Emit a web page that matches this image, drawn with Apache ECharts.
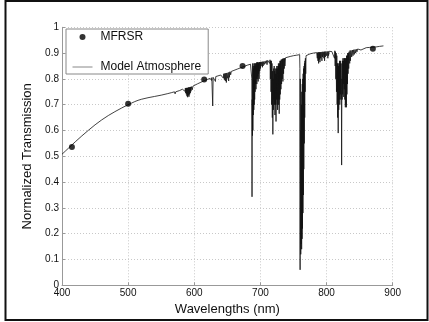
<!DOCTYPE html>
<html><head><meta charset="utf-8">
<script src="https://cdn.jsdelivr.net/npm/echarts@6/dist/echarts.min.js"></script>
<style>html,body{margin:0;padding:0;background:#fff}#c{width:429px;height:322px}</style>
</head><body><div id="c"></div>
<script>
// MFRSR measurements
const mfrsrWl = [415, 500, 615, 673, 870];
const mfrsrT  = [0.536, 0.704, 0.798, 0.850, 0.917];

// Model atmosphere spectrum
const modelWl = [
400,405,410,415,420,430,440,450,460,470,480,490,500,505,510,515,520,530,540,550,560,566,
570,571,572,573,574,578,582,585,586,586.5,587,587.5,588,588.5,589,589.5,590,590.5,591,591.5,592,592.5,593,593.5,594,594.5,595,596,597,598,600,
605,610,615,620,624,626,626.5,627.9,628.5,630,632,632.5,635,640,643,644,644.5,645.5,646,647,647.5,648.5,649,650,651,652,652.5,653,654,655,656,660,665,670,675,680,685,686.5,
687,687.3,687.6,688,688.3,688.6,689,689.3,689.6,690,690.3,690.6,691,691.3,691.6,692,692.3,692.6,693,693.3,693.6,694,694.3,694.6,695,695.3,695.6,696,696.3,696.6,697,697.3,697.6,698,698.5,699,699.5,700,700.5,701,702,703,703.5,704,705,706,707,708,709,710,711,712,713,714,714.5,
715,715.5,716,716.5,717,717.5,718,718.4,718.8,719.2,719.6,720,720.4,720.8,721.2,721.6,722,722.4,722.8,723.2,723.6,724,724.4,724.8,725.2,725.6,726,726.4,726.8,727.2,727.6,728,728.4,728.8,729.2,729.6,730,730.5,731,731.5,732,732.5,733,733.5,734,734.5,735,735.5,736,736.5,737,738,740,745,750,755,
759.3,759.7,760,760.3,760.6,761,761.3,761.6,762,762.3,762.6,763,763.3,763.6,764,764.3,764.6,765,765.3,765.6,766,766.3,766.6,767,767.3,767.6,768,768.5,769,770,775,780,785,
786,786.5,787,787.5,788,788.5,789,789.5,790,790.5,791,792,793,793.5,794,795,796,796.5,797,797.5,798,799,800,801,802,802.5,803,804,806,808,809,810,811,812,812.5,813,813.5,814,814.5,815,815.5,
816,816.4,816.8,817.2,817.6,818,818.4,818.8,819.2,819.6,820,820.4,820.8,821.2,821.6,822,822.4,822.8,823.2,823.6,824,824.4,824.8,825.2,825.6,826,826.4,826.8,827.2,827.6,828,828.4,828.8,829.2,829.6,830,830.4,830.8,831.2,831.6,832,832.5,833,833.5,834,835,835.5,836,837,838,839,840,841,842,843,844,845,846,847,848,850,852,853,855,860,865,870,875,880,886
];
const modelT = [
.508,.520,.532,.544,.556,.579,.601,.622,.641,.658,.673,.687,.700,.706,.712,.717,.721,.727,.732,.737,.743,.747,
.750,.742,.750,.745,.751,.755,.760,.763,.752,.764,.745,.765,.740,.765,.733,.765,.729,.766,.736,.767,.731,.767,.740,.768,.745,.769,.752,.770,.758,.772,.775,
.781,.787,.793,.798,.802,.794,.805,.695,.806,.807,.790,.809,.811,.815,.818,.803,.820,.797,.821,.792,.822,.786,.823,.802,.824,.792,.826,.806,.828,.816,.829,.833,.838,.843,.848,.853,.857,.859,
.80,.343,.72,.58,.86,.60,.85,.66,.84,.68,.86,.70,.85,.72,.86,.75,.86,.78,.85,.76,.86,.80,.864,.78,.86,.80,.864,.81,.864,.79,.86,.82,.864,.80,.865,.83,.865,.84,.866,.85,.866,.845,.867,.85,.867,.856,.869,.86,.871,.855,.872,.865,.873,.86,.874,
.80,.87,.75,.87,.70,.86,.65,.83,.585,.80,.68,.84,.72,.85,.70,.83,.66,.84,.70,.82,.635,.84,.72,.85,.70,.84,.68,.85,.72,.86,.70,.85,.665,.86,.72,.87,.74,.87,.76,.875,.78,.875,.80,.878,.79,.878,.82,.88,.84,.88,.85,.882,.884,.887,.890,.892,
.894,.84,.06,.80,.40,.12,.60,.16,.70,.14,.75,.18,.78,.22,.80,.28,.82,.35,.84,.45,.85,.55,.86,.65,.87,.75,.88,.82,.89,.895,.897,.900,.902,
.88,.902,.87,.903,.86,.903,.875,.903,.865,.904,.88,.904,.87,.905,.885,.905,.88,.905,.87,.906,.885,.906,.89,.906,.88,.907,.89,.907,.908,.906,.908,.90,.909,.88,.909,.85,.905,.80,.90,.75,.89,
.70,.86,.65,.86,.59,.85,.68,.86,.72,.87,.70,.86,.74,.87,.72,.86,.76,.466,.80,.72,.87,.74,.88,.78,.87,.73,.88,.76,.88,.72,.87,.69,.88,.70,.88,.69,.89,.74,.89,.78,.90,.82,.90,.84,.905,.86,.91,.87,.91,.885,.912,.89,.913,.895,.914,.90,.915,.905,.916,.91,.917,.912,.918,.919,.921,.922,.923,.924,.926,.928
];

const modelData = modelWl.map((w, i) => [w, modelT[i]]);
const mfrsrData = mfrsrWl.map((w, i) => [w, mfrsrT[i]]);

const FONT = '"Liberation Sans", Arial, sans-serif';
const chart = echarts.init(document.getElementById('c'), null, {renderer: 'canvas'});
chart.setOption({
  animation: false,
  backgroundColor: '#fff',
  grid: {left: 62, right: 36.3, top: 27.3, bottom: 36.7, containLabel: false},
  xAxis: {
    type: 'value', min: 400, max: 900, interval: 100,
    name: 'Wavelengths (nm)', nameLocation: 'middle', nameGap: 17,
    nameTextStyle: {fontFamily: FONT, fontSize: 13, color: '#111'},
    axisLine: {show: true, onZero: false, lineStyle: {color: '#999', width: 1}},
    axisTick: {show: true, inside: true, length: 3, lineStyle: {color: '#999'}},
    axisLabel: {fontFamily: FONT, fontSize: 10, color: '#111', margin: 3},
    splitLine: {show: true, lineStyle: {color: '#c8c8c8', type: [1, 2], width: 1}}
  },
  yAxis: {
    type: 'value', min: 0, max: 1, interval: 0.1,
    name: 'Normalized Transmission', nameLocation: 'middle', nameGap: 22,
    nameTextStyle: {fontFamily: FONT, fontSize: 13, color: '#111'},
    axisLine: {show: true, lineStyle: {color: '#999', width: 1}},
    axisTick: {show: true, inside: true, length: 3, lineStyle: {color: '#999'}},
    axisLabel: {fontFamily: FONT, fontSize: 10, color: '#111', margin: 3,
      formatter: v => String(Math.round(v * 10) / 10)},
    splitLine: {show: true, lineStyle: {color: '#c8c8c8', type: [1, 2], width: 1}}
  },
  legend: {
    orient: 'vertical', left: 66, top: 29,
    padding: [2, 7, 1, 6], itemGap: 18, itemWidth: 20, itemHeight: 6,
    backgroundColor: '#fff', borderColor: '#888', borderWidth: 1, borderRadius: 0,
    textStyle: {fontFamily: FONT, fontSize: 12, color: '#111', padding: [0, 0, 0, 3]},
    lineStyle: {color: '#888', width: 1},
    data: [
      {name: 'MFRSR', icon: 'circle', itemStyle: {color: '#000'}},
      {name: 'Model Atmosphere', itemStyle: {opacity: 0}}
    ]
  },
  graphic: [{
    type: 'rect', shape: {x: 5.5, y: 1, width: 422, height: 319}, silent: true,
    style: {fill: null, stroke: '#111', lineWidth: 2}, z: 100
  }],
  series: [
    {
      name: 'Model Atmosphere', type: 'line', data: modelData,
      showSymbol: false, symbol: 'none', sampling: null, z: 2,
      lineStyle: {color: '#111', width: 0.8}, itemStyle: {color: '#111'}
    },
    {
      name: 'MFRSR', type: 'scatter', data: mfrsrData,
      symbol: 'circle', symbolSize: 6, z: 3,
      itemStyle: {color: '#000'}
    }
  ]
});
</script></body></html>
